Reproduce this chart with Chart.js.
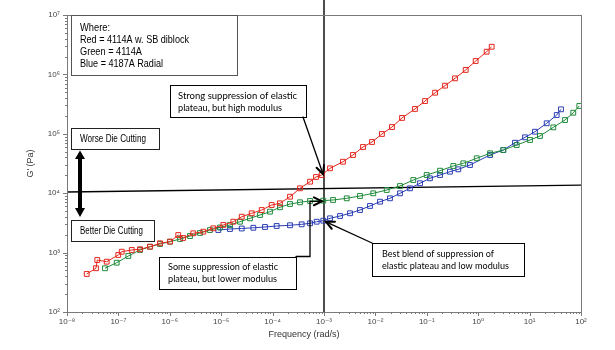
<!DOCTYPE html>
<html>
<head>
<meta charset="utf-8">
<script src="https://cdn.jsdelivr.net/npm/chart.js@4.4.1/dist/chart.umd.min.js"></script>
<style>
html, body { margin: 0; padding: 0; background: #fff; }
#grafico { display: block; }
</style>
</head>
<body>
<canvas id="grafico" width="615" height="350"></canvas>
<script>
// Valores: frequência (rad/s) e G' (Pa)
const freqVermelho = [2.42e-8, 3.66e-8, 3.88e-8, 5.92e-8, 9.95e-8, 1.16e-7, 1.82e-7, 2.63e-7, 4.12e-7, 6.44e-7,
    1.01e-6, 1.46e-6, 1.81e-6, 2.86e-6, 4.49e-6, 7.01e-6, 1.10e-5, 1.72e-5, 2.51e-5, 3.92e-5, 6.14e-5, 9.59e-5,
    1.39e-4, 2.18e-4, 3.41e-4, 5.35e-4, 6.98e-4, 9.02e-4, 1.31e-3, 2.34e-3, 3.66e-3, 5.74e-3, 8.59e-3, 1.34e-2,
    2.10e-2, 3.30e-2, 5.89e-2, 9.23e-2, 0.145, 0.226, 0.354, 0.571, 0.893, 1.46, 1.83];
const gVermelho = [437, 545, 750, 703, 912, 1035, 1107, 1138, 1256, 1435,
    1528, 1977, 1762, 2113, 2249, 2564, 2917, 3311, 4018, 4592, 5212, 6324,
    6761, 8730, 12080, 15630, 18750, 20230, 26240, 33880, 43950, 59980, 72780, 99310,
    130000, 185000, 262000, 356000, 492000, 646000, 859000, 1190000, 1680000, 2410000, 2920000];

const freqVerde = [5.48e-8, 9.27e-8, 1.56e-7, 2.63e-7, 4.12e-7, 6.44e-7, 1.01e-6, 1.58e-6, 2.47e-6, 3.87e-6,
    6.05e-6, 9.48e-6, 1.48e-5, 2.32e-5, 3.63e-5, 5.69e-5, 8.89e-5, 1.39e-4, 2.18e-4, 3.41e-4, 5.35e-4, 9.68e-4,
    1.50e-3, 2.77e-3, 5.01e-3, 9.10e-3, 1.66e-2, 3.01e-2, 5.46e-2, 9.95e-2, 0.181, 0.328, 0.513, 0.936,
    1.70, 3.08, 5.61, 10.2, 15.9, 28.9, 48.9, 70.8, 92.7];
const gVerde = [545, 676, 877, 1107, 1256, 1396, 1528, 1694, 1901, 2138,
    2399, 2649, 2917, 3311, 3776, 4295, 4887, 5794, 6577, 7031, 7396, 7482,
    7691, 8204, 8974, 9954, 11320, 13210, 16670, 20230, 23930, 28710, 31840, 38730,
    46990, 53330, 64710, 78700, 91830, 128500, 170600, 226500, 294000];

const freqAzul = [8.79e-6, 1.48e-5, 2.51e-5, 4.22e-5, 7.11e-5, 1.20e-4, 2.18e-4, 3.68e-4, 5.35e-4, 7.21e-4,
    9.68e-4, 1.31e-3, 2.05e-3, 3.21e-3, 5.01e-3, 7.85e-3, 1.23e-2, 1.92e-2, 3.01e-2, 4.71e-2, 7.38e-2, 0.115,
    0.181, 0.282, 0.410, 0.692, 1.70, 3.08, 5.20, 8.15, 12.7, 21.5, 33.7, 40.8];
const gAzul = [2399, 2495, 2547, 2618, 2698, 2805, 2884, 2992, 3112, 3311,
    3443, 3776, 4130, 4592, 5212, 6095, 7194, 8204, 9954, 12080, 14690, 17820,
    20230, 23010, 25240, 29850, 43950, 53330, 70790, 87300, 108400, 150300, 207000, 258200];

// Linhas de referência
const linhaVerticalX = [1e-3, 1e-3];
const linhaVerticalY = [100, 2e7];
const linhaHorizontalX = [1e-8, 100];
const linhaHorizontalY = [10500, 13700];

// Décadas dos eixos
const decadasX = [-8, -7, -6, -5, -4, -3, -2, -1, 0, 1, 2];
const decadasY = [2, 3, 4, 5, 6, 7];

const sobrescrito = { '-': '⁻', '0': '⁰', '1': '¹', '2': '²', '3': '³', '4': '⁴', '5': '⁵', '6': '⁶', '7': '⁷', '8': '⁸', '9': '⁹' };
function potencia(valor) {
    const e = Math.round(Math.log10(valor));
    return '10' + String(e).split('').map(c => sobrescrito[c]).join('');
}

function pontos(xs, ys) {
    return xs.map((x, i) => ({ x: x, y: ys[i] }));
}

function serie(nome, xs, ys, cor) {
    return {
        label: nome,
        data: pontos(xs, ys),
        borderColor: cor,
        borderWidth: 1,
        pointStyle: 'rect',
        pointRadius: 3.4,
        pointBorderWidth: 1,
        pointBorderColor: cor,
        pointBackgroundColor: 'rgba(255,255,255,0)',
        fill: false,
        tension: 0
    };
}

function linha(xs, ys) {
    return {
        data: pontos(xs, ys),
        borderColor: '#000',
        borderWidth: 1.4,
        pointRadius: 0,
        fill: false,
        clip: false
    };
}

const fonteTicks = { family: "'Liberation Sans', 'DejaVu Sans', sans-serif", size: 8 };

// Desenha caixa com texto
function caixa(ctx, x, y, w, h, linhas, fonte, tx, larguras, corBorda) {
    ctx.save();
    ctx.fillStyle = '#fff';
    ctx.fillRect(x, y, w, h);
    ctx.strokeStyle = corBorda || '#000';
    ctx.lineWidth = 1;
    ctx.strokeRect(x + 0.5, y + 0.5, w, h);
    ctx.fillStyle = '#000';
    ctx.font = fonte;
    ctx.textBaseline = 'middle';
    ctx.textAlign = 'left';
    linhas.forEach((l, i) => ctx.fillText(l.texto, tx, l.y, larguras[i]));
    ctx.restore();
}

function pontaSeta(ctx, x0, y0, x1, y1, tam) {
    const ang = Math.atan2(y1 - y0, x1 - x0);
    ctx.beginPath();
    ctx.moveTo(x1 - tam * Math.cos(ang - 0.45), y1 - tam * Math.sin(ang - 0.45));
    ctx.lineTo(x1, y1);
    ctx.lineTo(x1 - tam * Math.cos(ang + 0.45), y1 - tam * Math.sin(ang + 0.45));
    ctx.stroke();
}

const anotacoesPlugin = {
    id: 'anotacoes',
    afterDraw(chart) {
        const ctx = chart.ctx;
        const area = chart.chartArea;
        const sx = chart.scales.x;
        const sy = chart.scales.y;

        // moldura
        ctx.save();
        ctx.strokeStyle = '#7a7a7a';
        ctx.lineWidth = 1;
        ctx.strokeRect(Math.round(area.left) + 0.5, Math.round(area.top) + 0.5,
            Math.round(area.right - area.left), Math.round(area.bottom - area.top));

        // marcas dos eixos (maiores e menores)
        ctx.beginPath();
        decadasX.forEach(e => {
            for (let m = 1; m <= 9; m++) {
                if (e === 2 && m > 1) break;
                const px = Math.round(sx.getPixelForValue(m * Math.pow(10, e))) + 0.5;
                const tl = m === 1 ? 4 : 2;
                ctx.moveTo(px, area.bottom);
                ctx.lineTo(px, area.bottom + tl);
            }
        });
        decadasY.forEach(e => {
            for (let m = 1; m <= 9; m++) {
                if (e === 7 && m > 1) break;
                const py = Math.round(sy.getPixelForValue(m * Math.pow(10, e))) + 0.5;
                const tl = m === 1 ? 4 : 2;
                ctx.moveTo(area.left, py);
                ctx.lineTo(area.left - tl, py);
            }
        });
        ctx.stroke();

        // título do eixo x
        ctx.fillStyle = '#333';
        ctx.font = "9px 'Liberation Sans', sans-serif";
        ctx.textAlign = 'center';
        ctx.textBaseline = 'middle';
        ctx.fillText('Frequency (rad/s)', 304, 335);
        ctx.restore();

        const arial = "10.5px 'Liberation Sans', Arial, sans-serif";
        const calibri = "9.5px Lato, 'Noto Sans', sans-serif";

        caixa(ctx, 71, 15, 166, 60, [
            { texto: 'Where:', y: 28 },
            { texto: 'Red = 4114A w. SB diblock', y: 40 },
            { texto: 'Green = 4114A', y: 52 },
            { texto: 'Blue = 4187A Radial', y: 64 }
        ], arial, 80, [30, 109, 62, 83], '#555');

        caixa(ctx, 71, 128, 88, 21, [{ texto: 'Worse Die Cutting', y: 139 }], arial, 80, [66], '#222');
        caixa(ctx, 71, 220, 83, 21, [{ texto: 'Better Die Cutting', y: 231 }], arial, 80, [63], '#222');

        caixa(ctx, 170, 85, 136, 32, [
            { texto: 'Strong suppression of elastic', y: 96 },
            { texto: 'plateau, but high modulus', y: 108 }
        ], calibri, 178, [122, 104]);

        caixa(ctx, 159, 257, 137, 32, [
            { texto: 'Some suppression of elastic', y: 267 },
            { texto: 'plateau, but lower modulus', y: 279 }
        ], calibri, 168, [110, 109]);

        caixa(ctx, 372, 243, 152, 33, [
            { texto: 'Best blend of suppression of', y: 254 },
            { texto: 'elastic plateau and low modulus', y: 266 }
        ], calibri, 382, [112, 127]);

        // setas
        ctx.save();
        ctx.strokeStyle = '#000';
        ctx.fillStyle = '#000';
        ctx.lineWidth = 1.3;
        ctx.lineCap = 'round';
        ctx.lineJoin = 'miter';

        const xRef = sx.getPixelForValue(1e-3);
        const tipVermelho = sy.getPixelForValue(21000);
        const tipVerde = sy.getPixelForValue(7300);
        const tipAzul = sy.getPixelForValue(3300);

        ctx.beginPath();
        ctx.moveTo(303, 117);
        ctx.lineTo(xRef - 1, tipVermelho);
        ctx.stroke();
        ctx.lineWidth = 2;
        pontaSeta(ctx, 303, 117, xRef - 1, tipVermelho, 9);

        ctx.lineWidth = 1.3;
        ctx.beginPath();
        ctx.moveTo(296, 256.5);
        ctx.lineTo(310, 256.5);
        ctx.lineTo(310, tipVerde);
        ctx.lineTo(xRef - 2, tipVerde);
        ctx.stroke();
        ctx.lineWidth = 2;
        pontaSeta(ctx, 310, tipVerde, xRef - 2, tipVerde, 9);

        ctx.lineWidth = 1.3;
        ctx.beginPath();
        ctx.moveTo(372, 243);
        ctx.lineTo(xRef + 2, tipAzul);
        ctx.stroke();
        ctx.lineWidth = 2;
        pontaSeta(ctx, 372, 243, xRef + 2, tipAzul, 9);

        // seta dupla grossa
        ctx.lineWidth = 4;
        ctx.lineCap = 'butt';
        ctx.beginPath();
        ctx.moveTo(80, 157);
        ctx.lineTo(80, 210);
        ctx.stroke();
        ctx.beginPath();
        ctx.moveTo(80, 150.5);
        ctx.lineTo(85, 159);
        ctx.lineTo(75, 159);
        ctx.closePath();
        ctx.fill();
        ctx.beginPath();
        ctx.moveTo(80, 217);
        ctx.lineTo(85, 208);
        ctx.lineTo(75, 208);
        ctx.closePath();
        ctx.fill();
        ctx.restore();
    }
};

const ctx = document.getElementById('grafico').getContext('2d');
const chart = new Chart(ctx, {
    type: 'line',
    data: {
        datasets: [
            serie('Red = 4114A w. SB diblock', freqVermelho, gVermelho, '#e3261c'),
            serie('Green = 4114A', freqVerde, gVerde, '#1f8a3a'),
            serie('Blue = 4187A Radial', freqAzul, gAzul, '#2a3db3'),
            linha(linhaHorizontalX, linhaHorizontalY),
            linha(linhaVerticalX, linhaVerticalY)
        ]
    },
    options: {
        responsive: false,
        animation: false,
        layout: { padding: { top: 15, right: 34, left: 0, bottom: 0 } },
        plugins: {
            legend: { display: false },
            tooltip: { enabled: false }
        },
        scales: {
            x: {
                type: 'logarithmic',
                min: 1e-8,
                max: 100,
                grid: { display: false, drawTicks: false },
                border: { display: false },
                afterBuildTicks: s => { s.ticks = decadasX.map(e => ({ value: Math.pow(10, e) })); },
                afterFit: s => { s.height = 38; },
                ticks: {
                    autoSkip: false,
                    maxRotation: 0,
                    padding: 5,
                    color: '#444',
                    font: fonteTicks,
                    callback: v => potencia(v)
                }
            },
            y: {
                type: 'logarithmic',
                min: 100,
                max: 1e7,
                grid: { display: false, drawTicks: false },
                border: { display: false },
                afterBuildTicks: s => { s.ticks = decadasY.map(e => ({ value: Math.pow(10, e) })); },
                afterFit: s => { s.width = 67; },
                ticks: {
                    autoSkip: false,
                    padding: 7,
                    color: '#444',
                    font: fonteTicks,
                    callback: v => potencia(v)
                },
                title: {
                    display: true,
                    text: "G' (Pa)",
                    color: '#333',
                    font: { family: "'Liberation Sans', sans-serif", size: 9 },
                    padding: { top: 25, bottom: 0 }
                }
            }
        }
    },
    plugins: [anotacoesPlugin]
});
</script>
</body>
</html>
